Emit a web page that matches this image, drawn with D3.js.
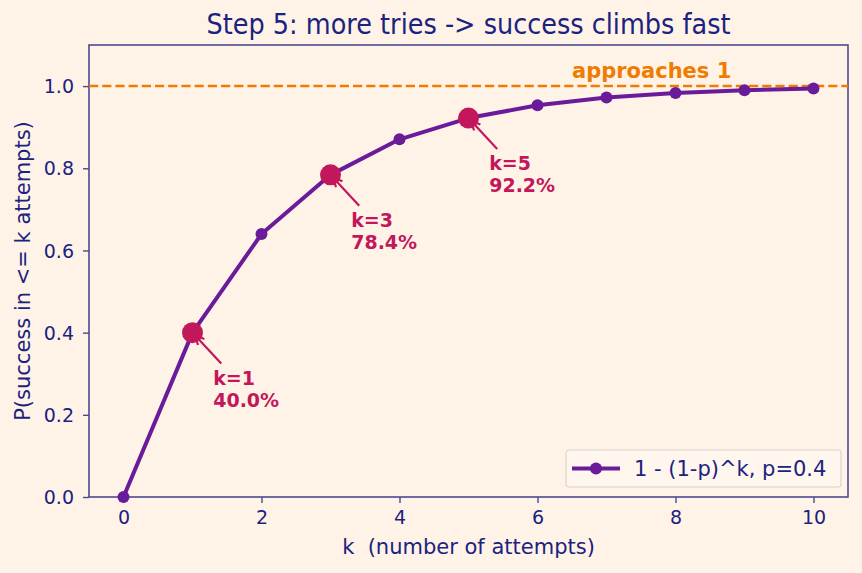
<!DOCTYPE html>
<html>
<head>
<meta charset="utf-8">
<script src="https://cdn.jsdelivr.net/npm/d3@7"></script>
<style>
  body { margin: 0; background: #fff3e8; }
  text { font-family: "DejaVu Sans", sans-serif; }
</style>
</head>
<body>
<div id="chart"></div>
<script>
// data
var attempts = [0, 1, 2, 3, 4, 5, 6, 7, 8, 9, 10];
var success = [0, 0.4, 0.64, 0.784, 0.8704, 0.9222, 0.9533, 0.972, 0.9832, 0.9899, 0.994];
var highlightK = [1, 3, 5];
var highlightLabels = ["40.0%", "78.4%", "92.2%"];
var xTicks = [0, 2, 4, 6, 8, 10];
var yTicks = [0, 0.2, 0.4, 0.6, 0.8, 1.0];

var navy = "#1a237e", purple = "#6a1b9a", crimson = "#c2185b", orange = "#ef7c00";

var W = 862, H = 573;
var margin = {top: 45, right: 14, bottom: 76, left: 89},
    width = W - margin.left - margin.right,
    height = H - margin.top - margin.bottom;

var svg = d3.select("#chart").append("svg")
    .attr("width", W)
    .attr("height", H)
    .attr("style", "background-color: #fff3e8;");

var g = svg.append("g")
    .attr("transform", "translate(" + margin.left + "," + margin.top + ")");

var x = d3.scaleLinear().domain([-0.5, 10.5]).range([0, width]);
var y = d3.scaleLinear().domain([0, 1.1]).range([height, 0]);

// title (a bit condensed like the original)
svg.append("text")
  .attr("x", margin.left + width / 2)
  .attr("y", 34)
  .attr("text-anchor", "middle")
  .attr("textLength", 524)
  .attr("lengthAdjust", "spacingAndGlyphs")
  .style("font-size", "28px")
  .style("fill", navy)
  .text("Step 5: more tries -> success climbs fast");

// axes
var xAxis = d3.axisBottom(x).tickValues(xTicks).tickSize(6).tickPadding(8).tickFormat(d3.format("d"));
var yAxis = d3.axisLeft(y).tickValues(yTicks).tickSize(6).tickPadding(9).tickFormat(d3.format(".1f"));

var gx = g.append("g").attr("transform", "translate(0," + height + ")").call(xAxis);
var gy = g.append("g").call(yAxis);
[gx, gy].forEach(function(a) {
  a.select(".domain").remove();
  a.selectAll("line").attr("stroke", "#4b4a8f").attr("stroke-width", 1.4);
  a.selectAll("text").style("font-size", "19px").style("fill", navy).style("font-family", "DejaVu Sans");
});
gy.selectAll("text").attr("dy", "0.35em");

// frame
g.append("rect")
  .attr("width", width).attr("height", height)
  .attr("fill", "none").attr("stroke", "#4b4a8f").attr("stroke-width", 1.6);

// axis labels
svg.append("text")
  .attr("x", margin.left + width / 2)
  .attr("y", 554)
  .attr("text-anchor", "middle")
  .style("font-size", "21px")
  .style("fill", navy)
  .style("white-space", "pre")
  .text("k  (number of attempts)");

svg.append("text")
  .attr("transform", "translate(30," + (margin.top + height / 2) + ") rotate(-90)")
  .attr("text-anchor", "middle")
  .style("font-size", "21px")
  .style("fill", navy)
  .text("P(success in <= k attempts)");

// dashed reference at 1
g.append("line")
  .attr("x1", 0).attr("x2", width)
  .attr("y1", y(1)).attr("y2", y(1))
  .attr("stroke", orange).attr("stroke-width", 2.5)
  .attr("stroke-dasharray", "9.2,4");

g.append("text")
  .attr("x", x(6.5)).attr("y", y(1.02))
  .style("font-size", "21px").style("font-weight", "bold")
  .style("fill", orange)
  .text("approaches 1");

// curve
var line = d3.line()
  .x(function(d, i) { return x(attempts[i]); })
  .y(function(d) { return y(d); });

g.append("path")
  .datum(success)
  .attr("d", line)
  .attr("fill", "none")
  .attr("stroke", purple)
  .attr("stroke-width", 4)
  .attr("stroke-linejoin", "round");

g.selectAll(".pt")
  .data(success)
  .enter().append("circle")
  .attr("class", "pt")
  .attr("cx", function(d, i) { return x(attempts[i]); })
  .attr("cy", function(d) { return y(d); })
  .attr("r", 6)
  .attr("fill", purple);

// highlighted points + annotations
var defs = svg.append("defs");
defs.append("marker")
  .attr("id", "arr")
  .attr("viewBox", "0 0 10 10")
  .attr("refX", 9).attr("refY", 5)
  .attr("markerWidth", 11).attr("markerHeight", 11)
  .attr("markerUnits", "userSpaceOnUse")
  .attr("orient", "auto")
  .append("path")
  .attr("d", "M1,1 L9,5 L1,9")
  .attr("fill", "none")
  .attr("stroke", crimson)
  .attr("stroke-width", 2);

highlightK.forEach(function(k, j) {
  var v = success[k];
  var px = x(k), py = y(v);
  g.append("circle")
    .attr("cx", px).attr("cy", py).attr("r", 10.5)
    .attr("fill", crimson);

  var tx = x(k + 0.3), ty = y(v - 0.18);
  var t = g.append("text")
    .style("font-size", "19px").style("font-weight", "bold")
    .style("fill", crimson);
  t.append("tspan").attr("x", tx).attr("y", ty - 22).text("k=" + k);
  t.append("tspan").attr("x", tx).attr("y", ty).text(highlightLabels[j]);

  // arrow from text corner to point
  var sx = tx + 8, sy = ty - 43;
  var dx = px - sx, dy = py - sy, len = Math.sqrt(dx * dx + dy * dy);
  g.append("line")
    .attr("x1", sx).attr("y1", sy)
    .attr("x2", px - dx / len * 4).attr("y2", py - dy / len * 4)
    .attr("stroke", crimson).attr("stroke-width", 2.2)
    .attr("marker-end", "url(#arr)");
});

// legend
var lg = g.append("g").attr("transform", "translate(" + (width - 282) + "," + (height - 47) + ")");
lg.append("rect")
  .attr("width", 275).attr("height", 37).attr("rx", 3)
  .attr("fill", "#fff6ee").attr("stroke", "#dcd4cc").attr("stroke-width", 1.2);
lg.append("line")
  .attr("x1", 6).attr("x2", 54).attr("y1", 18.5).attr("y2", 18.5)
  .attr("stroke", purple).attr("stroke-width", 4);
lg.append("circle").attr("cx", 30).attr("cy", 18.5).attr("r", 6).attr("fill", purple);
lg.append("text")
  .attr("x", 68).attr("y", 25.5)
  .style("font-size", "21px").style("fill", navy)
  .text("1 - (1-p)^k, p=0.4");
</script>
</body>
</html>
